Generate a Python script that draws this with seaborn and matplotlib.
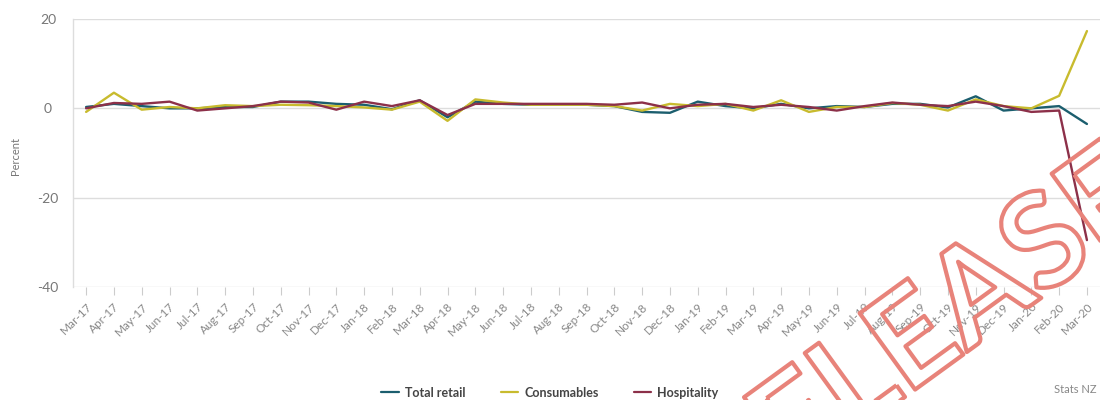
import matplotlib
matplotlib.use("Agg")
import matplotlib.pyplot as plt
import matplotlib.patheffects as pe
from matplotlib.lines import Line2D
import seaborn as sns
import pandas as pd

months = ["Mar-17", "Apr-17", "May-17", "Jun-17", "Jul-17", "Aug-17", "Sep-17", "Oct-17",
          "Nov-17", "Dec-17", "Jan-18", "Feb-18", "Mar-18", "Apr-18", "May-18", "Jun-18",
          "Jul-18", "Aug-18", "Sep-18", "Oct-18", "Nov-18", "Dec-18", "Jan-19", "Feb-19",
          "Mar-19", "Apr-19", "May-19", "Jun-19", "Jul-19", "Aug-19", "Sep-19", "Oct-19",
          "Nov-19", "Dec-19", "Jan-20", "Feb-20", "Mar-20"]

total_retail = [0.3, 1.0, 0.5, 0.0, 0.0, 0.3, 0.3, 1.5, 1.5, 1.0, 0.8, -0.2, 1.8, -2.0,
                1.5, 1.0, 0.8, 0.8, 0.8, 0.5, -0.8, -1.0, 1.5, 0.5, 0.0, 1.0, 0.0, 0.5,
                0.3, 1.0, 1.0, 0.2, 2.7, -0.5, 0.0, 0.5, -3.5]
consumables = [-0.8, 3.5, -0.3, 0.3, 0.0, 0.7, 0.5, 0.8, 0.7, 0.5, 0.2, -0.3, 1.5, -2.8,
               2.0, 1.3, 0.8, 0.8, 0.8, 0.5, -0.5, 1.0, 0.5, 1.0, -0.5, 1.8, -0.8, 0.3,
               0.3, 1.2, 0.8, -0.5, 2.0, 0.5, 0.0, 2.8, 17.3]
hospitality = [0.0, 1.2, 1.0, 1.5, -0.5, 0.0, 0.5, 1.5, 1.3, -0.3, 1.5, 0.5, 1.8, -1.5,
               1.0, 1.0, 1.0, 1.0, 1.0, 0.8, 1.3, 0.0, 0.8, 1.0, 0.3, 0.8, 0.3, -0.5,
               0.5, 1.3, 0.8, 0.5, 1.5, 0.5, -0.8, -0.5, -29.5]

series_names = ["Total retail", "Consumables", "Hospitality"]
colors = ["#1b5e6e", "#c8bb2e", "#8c3049"]
y_ticks = [-40, -20, 0, 20]

frames = []
for name, vals in zip(series_names, [total_retail, consumables, hospitality]):
    frames.append(pd.DataFrame({"idx": range(len(months)), "value": vals, "series": name}))
df = pd.concat(frames, ignore_index=True)

sns.set_theme(style="white")
plt.rcParams["font.family"] = ["Lato", "DejaVu Sans"]

fig = plt.figure(figsize=(11, 4), dpi=100)
ax = fig.add_axes([0.0664, 0.2825, 0.9336, 0.67])

sns.lineplot(data=df, x="idx", y="value", hue="series", hue_order=series_names,
             palette=colors, linewidth=1.7, ax=ax, legend=False)

ax.set_xlim(-0.47, 36.47)
ax.set_ylim(-40, 20)
ax.set_yticks(y_ticks)
ax.set_yticklabels([str(t) for t in y_ticks], color="#777777", fontsize=10)
ax.set_xticks(range(len(months)))
ax.set_xticklabels(months, rotation=45, ha="right", rotation_mode="anchor",
                   color="#888888", fontsize=8.5)
ax.tick_params(axis="x", which="major", length=6, width=0.8, color="#cccccc",
               direction="out", bottom=True, pad=4)
ax.tick_params(axis="y", length=0, pad=18)
for lbl in ax.get_yticklabels():
    lbl.set_horizontalalignment("center")

for t in y_ticks:
    ax.axhline(t, color="#dddddd", linewidth=1.0, zorder=0)

for side in ["top", "right", "bottom"]:
    ax.spines[side].set_visible(False)
ax.spines["left"].set_color("#dddddd")
ax.spines["left"].set_linewidth(1.0)

ax.set_xlabel("")
ax.set_ylabel("Percent", color="#777777", fontsize=8, labelpad=4)
ax.yaxis.set_label_coords(-0.051, 0.49)

handles = [Line2D([0], [0], color=c, linewidth=1.6) for c in colors]
leg = fig.legend(handles, series_names, loc="center", bbox_to_anchor=(0.5, 0.018),
                 ncol=3, frameon=False, handlelength=1.4, handletextpad=0.5,
                 columnspacing=2.8, prop={"weight": "bold", "size": 9})
for txt in leg.get_texts():
    txt.set_color("#444444")

fig.text(0.958, 0.012, "Stats NZ", color="#888888", fontsize=8, ha="left", va="bottom")

fig.text(0.872, 0.222, "RELEASED", rotation=36, fontsize=94, ha="center", va="center",
         color="none", fontweight="bold", rotation_mode="anchor",
         path_effects=[pe.withStroke(linewidth=3, foreground="#e8837a")], zorder=10)

fig.savefig("out.png", dpi=100, facecolor="white")
